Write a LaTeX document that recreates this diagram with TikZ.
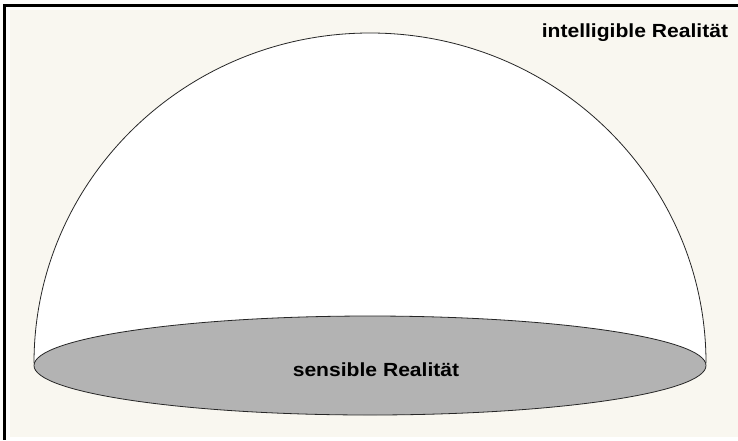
\documentclass[tikz,border=0pt]{standalone}
\usepackage{fontspec}
\setmainfont{Liberation Sans}
\usepackage{tikz}
\usetikzlibrary{positioning}
\definecolor{paper}{RGB}{249,247,240}
\definecolor{disc}{RGB}{179,179,179}

\begin{document}
\begin{tikzpicture}[x=1pt,y=-1pt]
    \useasboundingbox (0,0) rectangle (738,440);
    \fill[white] (0,0) rectangle (738,440);
    % Frame
    \fill[paper] (10,10) rectangle (738,437);
    \fill[black] (3,4) rectangle (6,440);
    \fill[black] (3,4) rectangle (738,7);

    % Dome (intelligible)
    \draw[fill=white, draw=black!85, line width=0.8pt] (34,363) arc (180:360:336 and 330);
    \node[font=\bfseries\fontsize{19}{22}\selectfont, xscale=1.11, anchor=base east] (intell) at (732,37) {intelligible Realität};

    % Disc (sensible)
    \draw[fill=disc, draw=black!85, line width=0.8pt] (370,365.5) ellipse (336 and 49.5);
    \node[font=\bfseries\fontsize{19}{22}\selectfont, xscale=1.11, anchor=base] (sens) at (376,376) {sensible Realität};
\end{tikzpicture}
\end{document}
